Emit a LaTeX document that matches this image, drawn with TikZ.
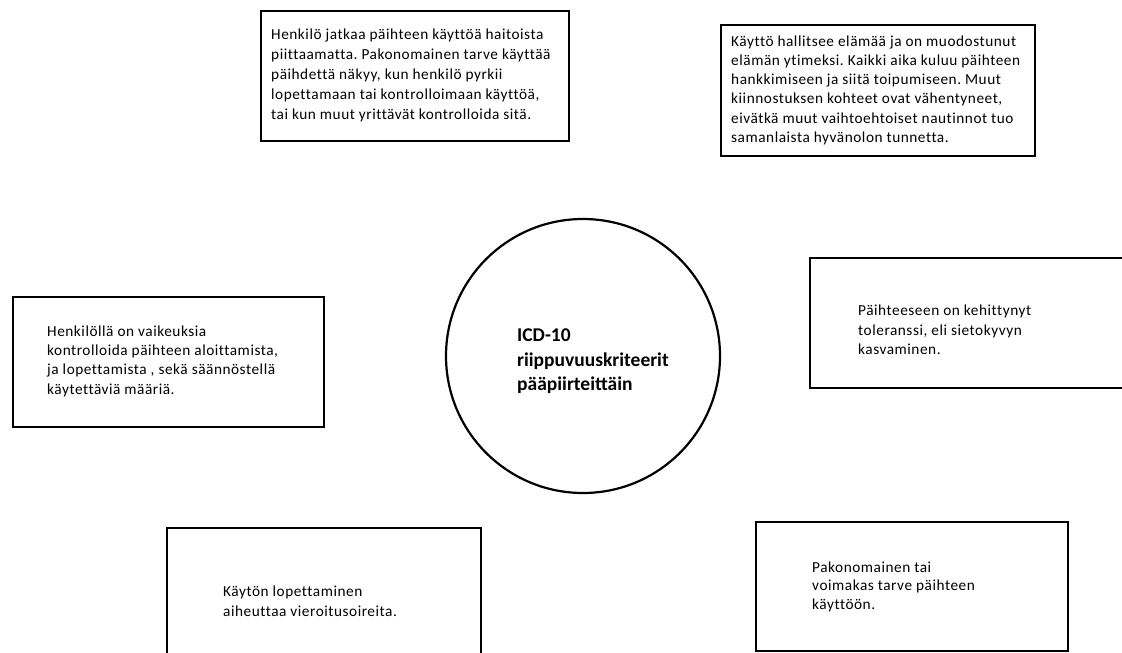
\documentclass[tikz,border=0pt]{standalone}
\usepackage{fontspec}
\setmainfont{Carlito}
\newfontfamily\boxfont{Carlito}[LetterSpace=3.5,Ligatures=NoCommon]
\frenchspacing
\begin{document}
\frenchspacing
\begin{tikzpicture}[x=1pt,y=-1pt,
  box/.style={draw=black, line width=2.8pt, rectangle, inner sep=0pt},
  ring/.style={draw=black, line width=2.2pt, circle, inner sep=0pt},
  txt/.style={anchor=base west, align=left, inner sep=0pt, text=black,
    font=\boxfont\fontsize{15.3}{19.3}\selectfont},
  title/.style={anchor=base west, align=left, inner sep=0pt, text=black,
    font=\bfseries\fontsize{19.5}{24.5}\selectfont},
]
\useasboundingbox (0,0) rectangle (1122,653);
\begin{scope}
\clip (0,0) rectangle (1122,653);
% boxes
\node[box, minimum width=308pt, minimum height=130pt] (b1) at (415,76) {};
\node[box, minimum width=314pt, minimum height=131pt] (b2) at (878,90.5) {};
\node[box, minimum width=311pt, minimum height=130pt] (b3) at (168.5,362) {};
\node[box, minimum width=320pt, minimum height=130pt] (b4) at (970,323) {};
\node[box, minimum width=314pt, minimum height=142pt] (b5) at (324,599) {};
\node[box, minimum width=312pt, minimum height=129pt] (b6) at (912,586.5) {};
% circle
\node[ring, minimum size=274pt] (c) at (583,356) {};
% texts (anchored at the baseline of their last line)
\node[txt, font=\boxfont\fontsize{15.3}{20}\selectfont] (t1) at (271,119) {Henkilö jatkaa päihteen käyttöä haitoista\\piittaamatta. Pakonomainen tarve käyttää\\päihdettä näkyy, kun henkilö pyrkii\\lopettamaan tai kontrolloimaan käyttöä,\\tai kun muut yrittävät kontrolloida sitä.};
\node[txt] (t2) at (731,142.5) {Käyttö hallitsee elämää ja on muodostunut\\elämän ytimeksi. Kaikki aika kuluu päihteen\\hankkimiseen ja siitä toipumiseen. Muut\\kiinnostuksen kohteet ovat vähentyneet,\\eivätkä muut vaihtoehtoiset nautinnot tuo\\samanlaista hyvänolon tunnetta.};
\node[txt] (t3) at (47,394) {Henkilöllä on vaikeuksia\\kontrolloida päihteen aloittamista,\\ja lopettamista , sekä säännöstellä\\käytettäviä määriä.};
\node[txt] (t4) at (858,354.5) {Päihteeseen on kehittynyt\\toleranssi, eli sietokyvyn\\kasvaminen.};
\node[txt] (t5) at (223,616) {Käytön lopettaminen\\aiheuttaa vieroitusoireita.};
\node[txt, font=\boxfont\fontsize{15.3}{18.7}\selectfont] (t6) at (812,609.5) {Pakonomainen tai\\voimakas tarve päihteen\\käyttöön.};
\node[title] (t0) at (517,390.5) {ICD-10\\riippuvuuskriteerit\\pääpiirteittäin};
\end{scope}
\end{tikzpicture}
\end{document}
